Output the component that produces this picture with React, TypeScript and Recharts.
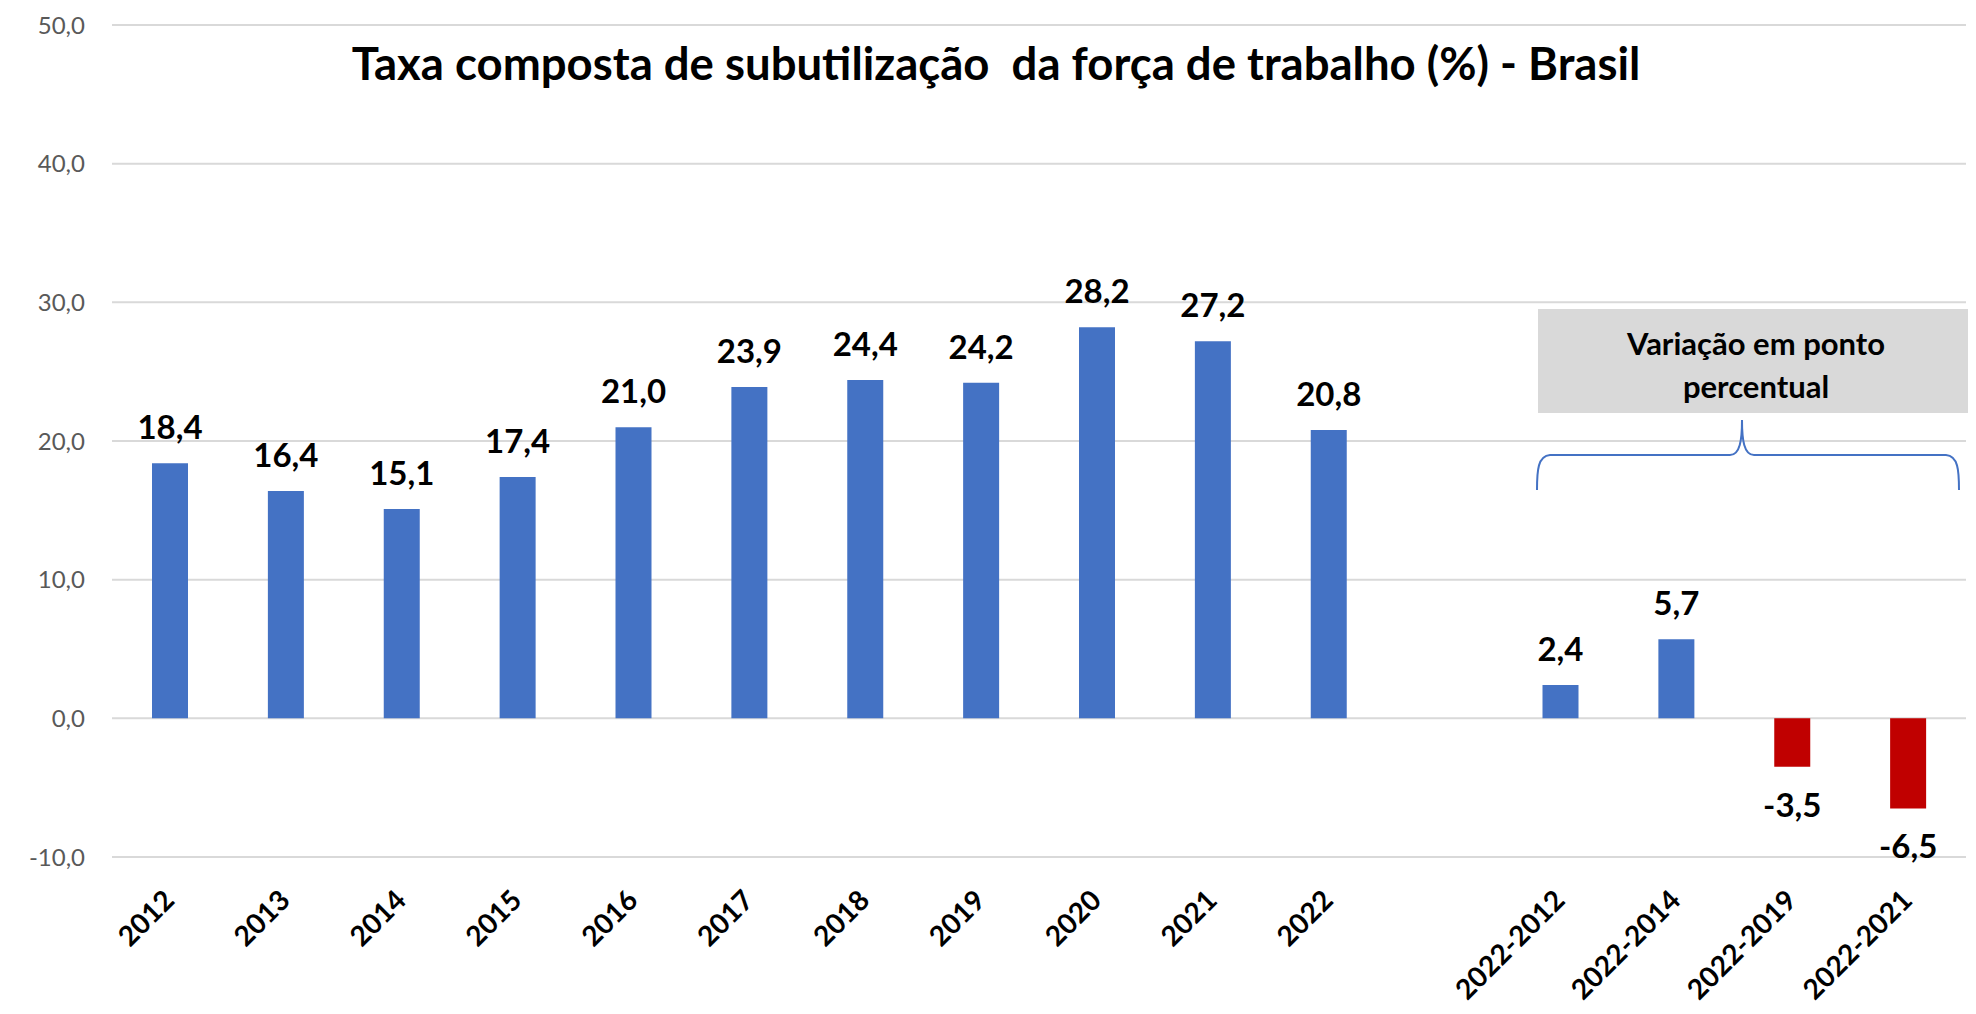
import React from 'react';
import { BarChart, Bar, XAxis, YAxis, CartesianGrid, Cell, LabelList } from 'recharts';

const categories = ['2012', '2013', '2014', '2015', '2016', '2017', '2018', '2019', '2020', '2021', '2022', '', '2022-2012', '2022-2014', '2022-2019', '2022-2021'];
const values: (number | null)[] = [18.4, 16.4, 15.1, 17.4, 21.0, 23.9, 24.4, 24.2, 28.2, 27.2, 20.8, null, 2.4, 5.7, -3.5, -6.5];
const yTicks = [-10, 0, 10, 20, 30, 40, 50];

const title = 'Taxa composta de subutilização\u00A0 da força de trabalho (%) - Brasil';
const boxLines = ['Variação em ponto', 'percentual'];

const BLUE = '#4472C4';
const RED = '#C00000';
const FONT = 'Lato, "Open Sans", sans-serif';

const data = categories.map((c, i) => ({ cat: c, value: values[i] }));

const fmt = (v: number) => v.toFixed(1).replace('.', ',');

const XTick = (props: any) => {
  const { x, y, payload } = props;
  if (!payload || !payload.value) return null;
  const tx = x + 6;
  const ty = y + 45;
  return (
    <text x={tx} y={ty} transform={`rotate(-45, ${tx}, ${ty})`} textAnchor="end" fontFamily={FONT} fontWeight={700} fontSize={28} fill="#000">
      {payload.value}
    </text>
  );
};

const ValueLabel = (props: any) => {
  const { x, y, width, height, value } = props;
  if (value === null || value === undefined) return null;
  const top = Math.min(y, y + height);
  const bottom = Math.max(y, y + height);
  const cx = x + width / 2;
  const by = value >= 0 ? top - 24 : bottom + 50;
  return (
    <text x={cx} y={by} textAnchor="middle" fontFamily={FONT} fontWeight={700} fontSize={33} fill="#000">
      {fmt(value)}
    </text>
  );
};

export default function App() {
  return (
    <div style={{ margin: -8, position: 'relative', width: 1976, height: 1014, background: '#fff', overflow: 'hidden' }}>
      <BarChart width={1976} height={1014} data={data} margin={{ top: 25, right: 10, bottom: 0, left: 0 }}>
        <CartesianGrid vertical={false} stroke="#d9d9d9" strokeWidth={2} />
        <YAxis
          domain={[-10, 50]}
          ticks={yTicks}
          tickFormatter={fmt}
          axisLine={false}
          tickLine={false}
          tickSize={0}
          tickMargin={27}
          width={112}
          tick={{ fill: '#595959', fontSize: 24, fontFamily: FONT }}
          interval={0}
        />
        <XAxis dataKey="cat" interval={0} tick={<XTick />} tickLine={false} axisLine={false} tickSize={0} tickMargin={0} height={157} />
        <Bar dataKey="value" barSize={36} isAnimationActive={false}>
          {data.map((d, i) => (
            <Cell key={i} fill={d.value !== null && d.value < 0 ? RED : BLUE} />
          ))}
          <LabelList dataKey="value" content={<ValueLabel />} />
        </Bar>
      </BarChart>
      <svg width={1976} height={1014} style={{ position: 'absolute', left: 0, top: 0, pointerEvents: 'none' }}>
        <rect x={5} y={3} width={2100} height={2100} fill="none" stroke="#d9d9d9" strokeWidth={2} />
        <text x={996} y={80} textAnchor="middle" fontFamily={FONT} fontWeight={700} fontSize={45.5} fill="#000">
          {title}
        </text>
        <rect x={1538} y={309} width={437} height={104} fill="#d9d9d9" />
        <text x={1756} y={355} textAnchor="middle" fontFamily={FONT} fontWeight={700} fontSize={31} fill="#000">
          {boxLines[0]}
        </text>
        <text x={1756} y={398} textAnchor="middle" fontFamily={FONT} fontWeight={700} fontSize={31} fill="#000">
          {boxLines[1]}
        </text>
        <path
          d="M1537,490 C1537,470 1538,456 1550,455 L1730,455 C1740,455 1742,440 1742,420 C1742,440 1744,455 1754,455 L1946,455 C1958,456 1959,470 1959,490"
          fill="none"
          stroke={BLUE}
          strokeWidth={2}
        />
      </svg>
    </div>
  );
}
